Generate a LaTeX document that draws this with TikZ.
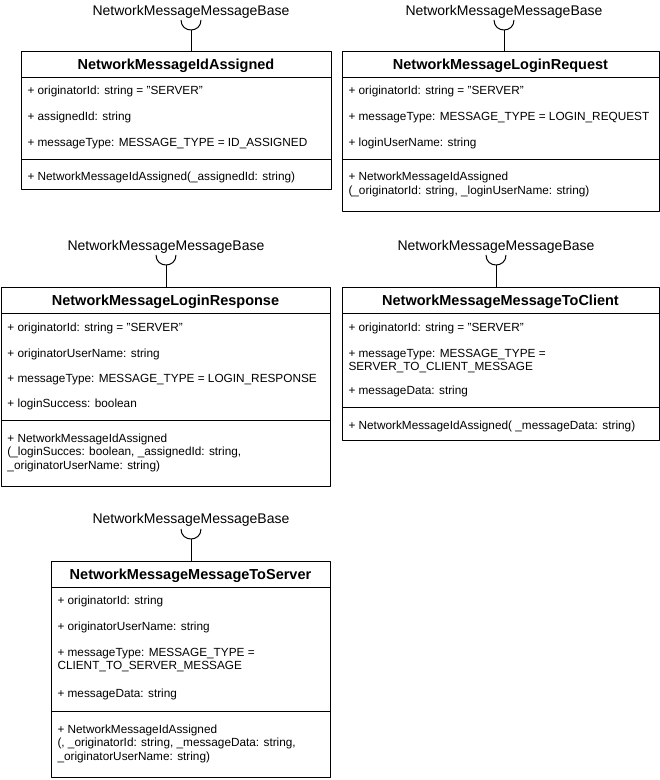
\documentclass[tikz,border=0pt]{standalone}
\usepackage{fontspec}
\setmainfont{Liberation Sans}
\begin{document}
\begin{tikzpicture}[x=1pt,y=-1pt,line width=1pt,line join=round,
  cls/.style={draw,anchor=north west,inner sep=0pt},
  ttl/.style={font=\fontsize{14.5}{16}\selectfont\bfseries,inner sep=0pt,yshift=-2pt},
  attr/.style={anchor=west,inner sep=0pt,align=left,font=\fontsize{11.8}{13.5}\selectfont,yshift=-1.5pt},
  base/.style={font=\fontsize{14}{16}\selectfont,inner sep=0pt,yshift=-1.5pt}]
\useasboundingbox (0,0) rectangle (660,780);
% NetworkMessageIdAssigned
\node[cls,minimum width=310,minimum height=138] (ida) at (21,51) {};
\node[ttl] (idaT) at (176,64) {NetworkMessageIdAssigned};
\draw (21,77)--(331,77) (21,159)--(331,159);
\node[attr] (ida1) at (27,90) {+ originatorId: string = "SERVER"};
\node[attr] (ida2) at (27,116) {+ assignedId: string};
\node[attr] (ida3) at (27,142) {+ messageType: MESSAGE\_TYPE = ID\_ASSIGNED};
\node[attr] (ida4) at (27,176) {+ NetworkMessageIdAssigned(\_assignedId: string)};
\node[base] (idaB) at (191,10) {NetworkMessageMessageBase};
\draw (181,20) .. controls (181,33.3) and (201,33.3) .. (201,20);
\coordinate (idaS) at (191,30);
\draw (idaS)--(idaS |- ida.north);
% NetworkMessageLoginRequest
\node[cls,minimum width=317,minimum height=160] (lrq) at (342,51) {};
\node[ttl] (lrqT) at (500.5,64) {NetworkMessageLoginRequest};
\draw (342,77)--(659,77) (342,159)--(659,159);
\node[attr] (lrq1) at (348,90) {+ originatorId: string = "SERVER"};
\node[attr] (lrq2) at (348,116) {+ messageType: MESSAGE\_TYPE = LOGIN\_REQUEST};
\node[attr] (lrq3) at (348,142) {+ loginUserName: string};
\node[attr] (lrq4) at (348,183) {+ NetworkMessageIdAssigned\\(\_originatorId: string, \_loginUserName: string)};
\node[base] (lrqB) at (504,10) {NetworkMessageMessageBase};
\draw (494,20) .. controls (494,33.3) and (514,33.3) .. (514,20);
\coordinate (lrqS) at (504,30);
\draw (lrqS)--(lrqS |- lrq.north);
% NetworkMessageLoginResponse
\node[cls,minimum width=329,minimum height=199] (lrs) at (1,287) {};
\node[ttl] (lrsT) at (165.5,300) {NetworkMessageLoginResponse};
\draw (1,313)--(330,313) (1,420)--(330,420);
\node[attr] (lrs1) at (7,327) {+ originatorId: string = "SERVER"};
\node[attr] (lrs2) at (7,353) {+ originatorUserName: string};
\node[attr] (lrs3) at (7,378) {+ messageType: MESSAGE\_TYPE = LOGIN\_RESPONSE};
\node[attr] (lrs4) at (7,403) {+ loginSuccess: boolean};
\node[attr] (lrs5) at (7,451) {+ NetworkMessageIdAssigned\\(\_loginSucces: boolean, \_assignedId: string,\\\_originatorUserName: string)};
\node[base] (lrsB) at (166,245) {NetworkMessageMessageBase};
\draw (156,255) .. controls (156,268.3) and (176,268.3) .. (176,255);
\coordinate (lrsS) at (166,265);
\draw (lrsS)--(lrsS |- lrs.north);
% NetworkMessageMessageToClient
\node[cls,minimum width=317,minimum height=153] (mtc) at (342,287) {};
\node[ttl] (mtcT) at (500.5,300) {NetworkMessageMessageToClient};
\draw (342,313)--(659,313) (342,407)--(659,407);
\node[attr] (mtc1) at (348,327) {+ originatorId: string = "SERVER"};
\node[attr] (mtc2) at (348,359.5) {+ messageType: MESSAGE\_TYPE =\\SERVER\_TO\_CLIENT\_MESSAGE};
\node[attr] (mtc3) at (348,390) {+ messageData: string};
\node[attr] (mtc4) at (348,425) {+ NetworkMessageIdAssigned( \_messageData: string)};
\node[base] (mtcB) at (496,245) {NetworkMessageMessageBase};
\draw (486,255) .. controls (486,268.3) and (506,268.3) .. (506,255);
\coordinate (mtcS) at (496,265);
\draw (mtcS)--(mtcS |- mtc.north);
% NetworkMessageMessageToServer
\node[cls,minimum width=279,minimum height=216] (mts) at (51,561) {};
\node[ttl] (mtsT) at (190.5,574) {NetworkMessageMessageToServer};
\draw (51,587)--(330,587) (51,711)--(330,711);
\node[attr] (mts1) at (57,600) {+ originatorId: string};
\node[attr] (mts2) at (57,626) {+ originatorUserName: string};
\node[attr] (mts3) at (57,658.5) {+ messageType: MESSAGE\_TYPE =\\CLIENT\_TO\_SERVER\_MESSAGE};
\node[attr] (mts4) at (57,693) {+ messageData: string};
\node[attr] (mts5) at (57,742) {+ NetworkMessageIdAssigned\\(, \_originatorId: string, \_messageData: string,\\\_originatorUserName: string)};
\node[base] (mtsB) at (191,518) {NetworkMessageMessageBase};
\draw (181,529) .. controls (181,542.3) and (201,542.3) .. (201,529);
\coordinate (mtsS) at (191,539);
\draw (mtsS)--(mtsS |- mts.north);
\end{tikzpicture}
\end{document}
